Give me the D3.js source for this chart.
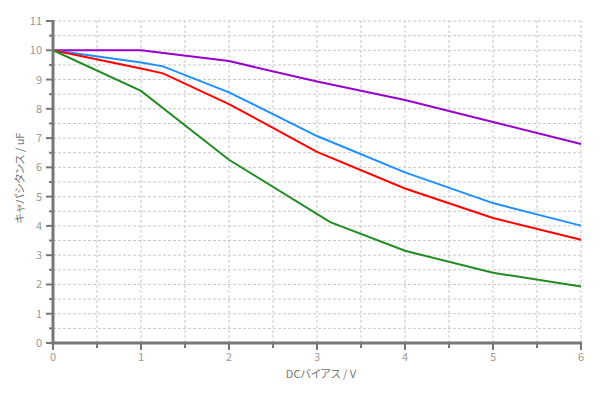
<!DOCTYPE html>
<html>
<head>
<meta charset="utf-8">
<script src="https://cdn.jsdelivr.net/npm/d3@7"></script>
<style>
  body { margin: 0; background: #fff; }
  text { font-family: "Noto Sans CJK JP", "DejaVu Sans", sans-serif; font-feature-settings: "palt"; }
</style>
</head>
<body>
<script>
// DC bias (V) vs capacitance (uF)
var purpleX = [0, 1, 2, 3, 4, 5, 6];
var purpleY = [10, 10, 9.63, 8.93, 8.3, 7.55, 6.8];
var blueX = [0, 1, 1.25, 2, 2.5, 3, 4, 5, 6];
var blueY = [10, 9.58, 9.45, 8.56, 7.82, 7.07, 5.83, 4.78, 4.01];
var redX = [0, 1, 1.25, 2, 2.5, 3, 4, 5, 6];
var redY = [10, 9.38, 9.21, 8.16, 7.35, 6.53, 5.28, 4.27, 3.53];
var greenX = [0, 1, 2, 3.15, 4, 5, 6];
var greenY = [10, 8.61, 6.26, 4.13, 3.15, 2.4, 1.93];
var xTicks = [0, 1, 2, 3, 4, 5, 6];
var yTicks = [0, 1, 2, 3, 4, 5, 6, 7, 8, 9, 10, 11];

var series = [
  { xs: purpleX, ys: purpleY, color: '#9900cc' },
  { xs: blueX, ys: blueY, color: '#1e90ff' },
  { xs: redX, ys: redY, color: '#ff0000' },
  { xs: greenX, ys: greenY, color: '#228b22' }
];

var width = 602, height = 394;
var margin = { top: 21, right: 21, bottom: 51, left: 53 };

var svg = d3.select('body').append('svg')
  .attr('width', width)
  .attr('height', height);

var x = d3.scaleLinear().domain([0, 6]).range([margin.left, width - margin.right]);
var y = d3.scaleLinear().domain([0, 11]).range([height - margin.bottom, margin.top]);

var halfX = d3.range(0, 6.01, 0.5);
var halfY = d3.range(0, 11.01, 0.5);

// dashed grid
var grid = svg.append('g');
grid.selectAll('.gx').data(halfX.slice(1)).enter().append('line')
  .attr('x1', d => x(d)).attr('x2', d => x(d))
  .attr('y1', y(0)).attr('y2', y(11))
  .attr('stroke', '#c8c8c8').attr('stroke-dasharray', '3,2');
grid.selectAll('.gy').data(halfY.slice(1)).enter().append('line')
  .attr('x1', x(0)).attr('x2', x(6))
  .attr('y1', d => y(d)).attr('y2', d => y(d))
  .attr('stroke', '#c8c8c8').attr('stroke-dasharray', '3,2');

// lines
var line = d3.line().x(d => x(d[0])).y(d => y(d[1]));
svg.selectAll('.series').data(series).enter().append('path')
  .attr('fill', 'none')
  .attr('stroke', d => d.color)
  .attr('stroke-width', 2)
  .attr('d', d => line(d.xs.map((v, i) => [v, d.ys[i]])));

// axes
var axisColor = '#777';
var xAxis = svg.append('g').attr('transform', 'translate(0,' + y(0) + ')');
xAxis.selectAll('.t').data(halfX).enter().append('line')
  .attr('x1', d => x(d)).attr('x2', d => x(d))
  .attr('y1', 0).attr('y2', d => d % 1 === 0 ? 7 : 5)
  .attr('stroke', axisColor).attr('stroke-width', 2);
xAxis.append('line')
  .attr('x1', x(0) - 1.5).attr('x2', x(6) + 1)
  .attr('stroke', axisColor).attr('stroke-width', 3);
xAxis.selectAll('.l').data(xTicks).enter().append('text')
  .attr('x', d => x(d)).attr('y', 18)
  .attr('text-anchor', 'middle')
  .attr('fill', '#999').style('font-size', '11px')
  .text(d => d);

var yAxis = svg.append('g').attr('transform', 'translate(' + x(0) + ',0)');
yAxis.selectAll('.t').data(halfY).enter().append('line')
  .attr('y1', d => y(d)).attr('y2', d => y(d))
  .attr('x1', 0).attr('x2', d => d % 1 === 0 ? -7 : -4)
  .attr('stroke', axisColor).attr('stroke-width', 2);
yAxis.append('line')
  .attr('y1', y(11) - 1).attr('y2', y(0) + 1.5)
  .attr('stroke', axisColor).attr('stroke-width', 3);
yAxis.selectAll('.l').data(yTicks).enter().append('text')
  .attr('x', -11).attr('y', d => y(d) + 4)
  .attr('text-anchor', 'end')
  .attr('fill', '#999').style('font-size', '11px')
  .text(d => d);

// titles
svg.append('text')
  .attr('x', 321).attr('y', 378)
  .attr('text-anchor', 'middle')
  .attr('fill', '#777').style('font-size', '11px')
  .text('DCバイアス / V');
svg.append('text')
  .attr('transform', 'translate(24,178) rotate(-90)')
  .attr('text-anchor', 'middle')
  .attr('fill', '#777').style('font-size', '11px')
  .text('キャパシタンス / uF');
</script>
</body>
</html>
